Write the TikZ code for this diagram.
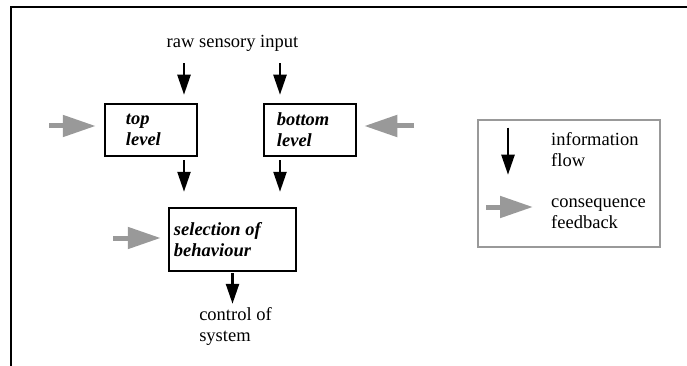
\documentclass[tikz,border=0pt]{standalone}
\usepackage{fontspec}
\setmainfont{Liberation Serif}
\usetikzlibrary{arrows.meta,positioning}
\definecolor{fbgray}{gray}{0.6}

\begin{document}
\begin{tikzpicture}[x=1pt,y=-1pt,
    txt/.style={font=\fontsize{18.5pt}{21pt}\selectfont,inner sep=0pt,align=left},
    lab/.style={txt,font=\fontsize{18.5pt}{21pt}\selectfont\bfseries\itshape},
    box/.style={draw,line width=2.5pt,minimum width=92pt,minimum height=52pt,inner sep=0pt},
    info/.style={line width=2.4pt,-{Triangle[length=20pt,width=13pt]}},
    cons/.style={fbgray,line width=5pt,-{Triangle[length=33pt,width=21pt]}}]
      \useasboundingbox (0,0) rectangle (687,366);
      \draw[line width=2pt] (10.5,366) -- (10.5,7) -- (687,7);

      \node[txt]        (raw) at (232.5,43)  {raw sensory input};
      \node[box]        (top) at (151,130)   {};
      \node[box]        (bot) at (310,130)   {};
      \node[box,minimum width=127pt,minimum height=63pt] (sel) at (232.5,239.5) {};
      \node[txt]        (ctl) at (235.5,326) {control of\\system};

      \node[lab,right=22pt of top.west] (toptxt) {top\\level};
      \node[lab,right=14pt of bot.west] (bottxt) {bottom\\level};
      \node[lab,right=6pt of sel.west]  (seltxt) {selection of\\behaviour};

      \draw[info,shorten <=12,shorten >=8] ([xshift=33pt]top.north |- raw.south) -- ([xshift=33pt]top.north);
      \draw[info,shorten <=12,shorten >=8] ([xshift=-30pt]bot.north |- raw.south) -- ([xshift=-30pt]bot.north);
      \draw[info,shorten <=3,shorten >=15] ([xshift=33pt]top.south) -- ([xshift=33pt]top.south |- sel.north);
      \draw[info,shorten <=3,shorten >=15] ([xshift=-30pt]bot.south) -- ([xshift=-30pt]bot.south |- sel.north);
      \draw[info,shorten <=1,shorten >=3] (sel.south) -- (sel.south |- ctl.north);

      \coordinate (fb1) at (49,126);
      \coordinate (fb2) at (414,126);
      \coordinate (fb3) at (113,238);
      \draw[cons,shorten >=8] (fb1) -- (fb1 -| top.west);
      \draw[cons,shorten >=7] (fb2) -- (fb2 -| bot.east);
      \draw[cons,shorten >=7] (fb3) -- (fb3 -| sel.west);

      % key
      \node[box,draw=fbgray,minimum width=182pt,minimum height=127pt] (key) at (569,183.5) {};
      \node[txt,anchor=west] (kinfo) at (551,149.5) {information\\flow};
      \node[txt,anchor=west] (kcons) at (551,213.5) {consequence\\feedback};
      \draw[info] ([xshift=-61pt,yshift=-9pt]key.north) -- ++(0,47);
      \draw[cons] ([xshift=-65pt]kcons.west |- 0,207) -- ++(47,0);
    \end{tikzpicture}
\end{document}
